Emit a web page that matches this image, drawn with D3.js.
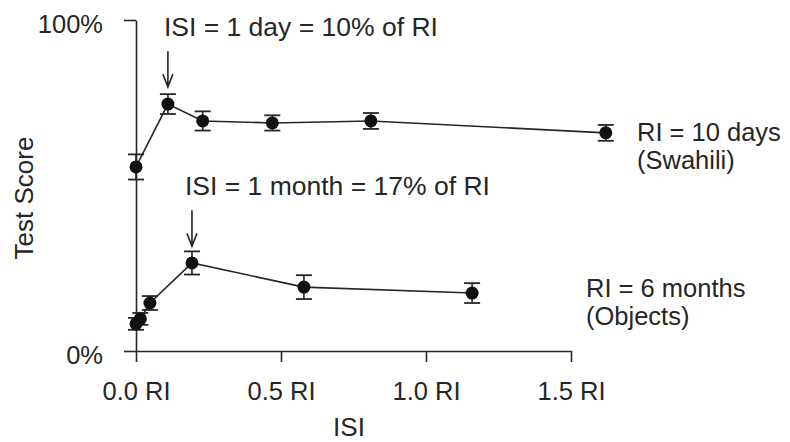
<!DOCTYPE html>
<html>
<head>
<meta charset="utf-8">
<script src="https://cdn.jsdelivr.net/npm/d3@7"></script>
<style>
  body { margin: 0; background: #fff; }
  svg text { font-family: "Liberation Sans", Arial, Helvetica, sans-serif; fill: #262626; }
</style>
</head>
<body>
<svg id="chart" width="790" height="442"></svg>
<script>
// values (ISI as fraction of RI, score as fraction)
var swahiliIsi   = [0, 0.11, 0.23, 0.47, 0.81, 1.62];
var swahiliScore = [0.556, 0.746, 0.695, 0.689, 0.695, 0.659];
var swahiliErr   = [0.038, 0.030, 0.029, 0.023, 0.024, 0.024];

var objectsIsi   = [0, 0.015, 0.048, 0.193, 0.579, 1.159];
var objectsScore = [0.082, 0.097, 0.145, 0.266, 0.193, 0.175];
var objectsErr   = [0.018, 0.018, 0.021, 0.035, 0.036, 0.030];

var xTicks = [0, 0.5, 1, 1.5];
var xTickLabels = ["0.0 RI", "0.5 RI", "1.0 RI", "1.5 RI"];
var yTicks = [0, 1];
var yTickLabels = ["0%", "100%"];

var seriesLabels = [["RI = 10 days", "(Swahili)"], ["RI = 6 months", "(Objects)"]];
var arrowNotes = ["ISI = 1 day = 10% of RI", "ISI = 1 month = 17% of RI"];

var svg = d3.select("#chart");
var ink = "#262626";

var x = d3.scaleLinear().domain([0, 1.5]).range([136, 571]);
var y = d3.scaleLinear().domain([0, 1]).range([351, 20]);

// axes
var xAxis = d3.axisBottom(x).tickValues(xTicks).tickSize(11).tickSizeOuter(0).tickPadding(20)
  .tickFormat(function(d, i) { return xTickLabels[i]; });
var yAxis = d3.axisLeft(y).tickValues(yTicks).tickSize(12).tickSizeOuter(0).tickPadding(21)
  .tickFormat(function(d, i) { return yTickLabels[i]; });

var gx = svg.append("g").attr("transform", "translate(0," + y(0) + ")").call(xAxis);
var gy = svg.append("g").attr("transform", "translate(" + x(0) + ",0)").call(yAxis);

[gx, gy].forEach(function(g) {
  g.select(".domain").attr("stroke", ink).attr("stroke-width", 1.6);
  g.selectAll(".tick line").attr("stroke", ink).attr("stroke-width", 1.6);
  g.selectAll(".tick text").attr("font-size", 25.5).attr("fill", ink)
    .attr("font-family", "Liberation Sans, Arial, sans-serif");
});
gy.selectAll(".tick text").attr("dy", "0.5em");

// axis titles
svg.append("text").attr("x", 349).attr("y", 436).attr("text-anchor", "middle")
  .attr("font-size", 26).text("ISI");
svg.append("text").attr("transform", "translate(33,198) rotate(-90)")
  .attr("text-anchor", "middle").attr("font-size", 26).text("Test Score");

function drawSeries(xs, ys, es) {
  var pts = xs.map(function(d, i) { return { x: d, y: ys[i], e: es[i] }; });
  var g = svg.append("g");
  g.append("path").datum(pts)
    .attr("fill", "none").attr("stroke", ink).attr("stroke-width", 1.6)
    .attr("d", d3.line().x(function(d) { return x(d.x); }).y(function(d) { return y(d.y); }));
  var bars = g.selectAll(".err").data(pts).enter().append("g");
  bars.append("line")
    .attr("x1", function(d) { return x(d.x); }).attr("x2", function(d) { return x(d.x); })
    .attr("y1", function(d) { return y(d.y - d.e); }).attr("y2", function(d) { return y(d.y + d.e); })
    .attr("stroke", ink).attr("stroke-width", 1.6);
  [1, -1].forEach(function(s) {
    bars.append("line")
      .attr("x1", function(d) { return x(d.x) - 8; }).attr("x2", function(d) { return x(d.x) + 8; })
      .attr("y1", function(d) { return y(d.y + s * d.e); }).attr("y2", function(d) { return y(d.y + s * d.e); })
      .attr("stroke", ink).attr("stroke-width", 1.8);
  });
  g.selectAll("circle").data(pts).enter().append("circle")
    .attr("cx", function(d) { return x(d.x); }).attr("cy", function(d) { return y(d.y); })
    .attr("r", 6.5).attr("fill", "#111");
  return pts;
}

var sw = drawSeries(swahiliIsi, swahiliScore, swahiliErr);
var ob = drawSeries(objectsIsi, objectsScore, objectsErr);

// arrows pointing at the best ISI in each series
function arrow(p, note, dx, gap) {
  var tipY = y(p.y + p.e) - gap;
  var px = x(p.x);
  svg.append("path")
    .attr("d", "M" + px + "," + (tipY - 36) + "V" + tipY +
      "M" + (px - 5) + "," + (tipY - 13) + "L" + px + "," + tipY + "L" + (px + 5) + "," + (tipY - 13))
    .attr("fill", "none").attr("stroke", ink).attr("stroke-width", 1.6);
  svg.append("text").attr("x", px + dx).attr("y", tipY - 51)
    .attr("font-size", 26.5).text(note);
}
arrow(sw[1], arrowNotes[0], -4, 7);
arrow(ob[3], arrowNotes[1], -7, 5);

// series labels, two lines each
var labelPos = [[637, 141], [586, 297]];
seriesLabels.forEach(function(lines, i) {
  lines.forEach(function(s, j) {
    svg.append("text").attr("x", labelPos[i][0]).attr("y", labelPos[i][1] + j * 28)
      .attr("font-size", 25.5).text(s);
  });
});
</script>
</body>
</html>
